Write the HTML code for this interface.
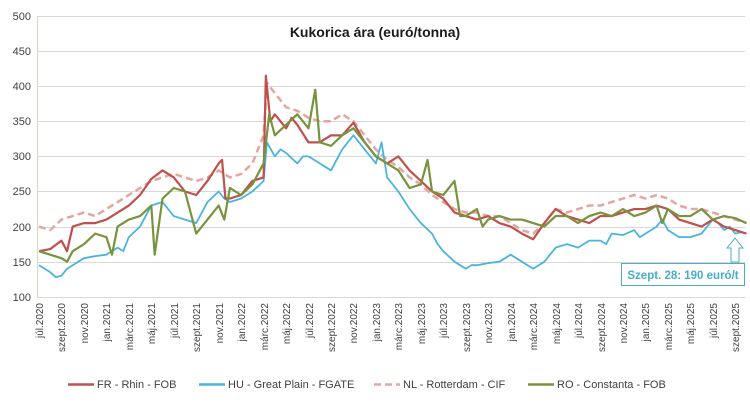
<!DOCTYPE html>
<html><head><meta charset="utf-8"><style>
body{margin:0;background:#fff;}
svg{display:block;font-family:"Liberation Sans",sans-serif;}
</style></head><body>
<svg width="750" height="410" viewBox="0 0 750 410">
<rect width="750" height="410" fill="#fff"/>
<g stroke="#d9d9d9" stroke-width="1">
<line x1="37" x2="745" y1="16.5" y2="16.5"/><line x1="37" x2="745" y1="51.5" y2="51.5"/>
<line x1="37" x2="745" y1="86.5" y2="86.5"/><line x1="37" x2="745" y1="121.5" y2="121.5"/>
<line x1="37" x2="745" y1="156.5" y2="156.5"/><line x1="37" x2="745" y1="191.5" y2="191.5"/>
<line x1="37" x2="745" y1="227.5" y2="227.5"/><line x1="37" x2="745" y1="262.5" y2="262.5"/>
<line x1="37" x2="745" y1="297.5" y2="297.5"/>
</g>
<line x1="37.5" x2="37.5" y1="16" y2="298" stroke="#d9d9c0"/>
<g font-size="11" fill="#404040" text-anchor="end">
<text x="31" y="20">500</text><text x="31" y="55">450</text><text x="31" y="90">400</text>
<text x="31" y="125">350</text><text x="31" y="160">300</text><text x="31" y="195">250</text>
<text x="31" y="231">200</text><text x="31" y="266">150</text><text x="31" y="301">100</text>
</g>
<text x="375" y="37" font-size="14" font-weight="bold" text-anchor="middle" fill="#1a1a1a">Kukorica ára (euró/tonna)</text>
<g font-size="10" fill="#404040" text-anchor="end">
<text transform="translate(43,303) rotate(-90)">júl.2020</text>
<text transform="translate(65,303) rotate(-90)">szept.2020</text>
<text transform="translate(88,303) rotate(-90)">nov.2020</text>
<text transform="translate(110,303) rotate(-90)">jan.2021</text>
<text transform="translate(133,303) rotate(-90)">márc.2021</text>
<text transform="translate(155,303) rotate(-90)">máj.2021</text>
<text transform="translate(178,303) rotate(-90)">júl.2021</text>
<text transform="translate(200,303) rotate(-90)">szept.2021</text>
<text transform="translate(223,303) rotate(-90)">nov.2021</text>
<text transform="translate(245,303) rotate(-90)">jan.2022</text>
<text transform="translate(268,303) rotate(-90)">márc.2022</text>
<text transform="translate(290,303) rotate(-90)">máj.2022</text>
<text transform="translate(313,303) rotate(-90)">júl.2022</text>
<text transform="translate(335,303) rotate(-90)">szept.2022</text>
<text transform="translate(357,303) rotate(-90)">nov.2022</text>
<text transform="translate(380,303) rotate(-90)">jan.2023</text>
<text transform="translate(402,303) rotate(-90)">márc.2023</text>
<text transform="translate(425,303) rotate(-90)">máj.2023</text>
<text transform="translate(447,303) rotate(-90)">júl.2023</text>
<text transform="translate(470,303) rotate(-90)">szept.2023</text>
<text transform="translate(492,303) rotate(-90)">nov.2023</text>
<text transform="translate(515,303) rotate(-90)">jan.2024</text>
<text transform="translate(537,303) rotate(-90)">márc.2024</text>
<text transform="translate(560,303) rotate(-90)">máj.2024</text>
<text transform="translate(582,303) rotate(-90)">júl.2024</text>
<text transform="translate(605,303) rotate(-90)">szept.2024</text>
<text transform="translate(627,303) rotate(-90)">nov.2024</text>
<text transform="translate(649,303) rotate(-90)">jan.2025</text>
<text transform="translate(672,303) rotate(-90)">márc.2025</text>
<text transform="translate(694,303) rotate(-90)">máj.2025</text>
<text transform="translate(717,303) rotate(-90)">júl.2025</text>
<text transform="translate(739,303) rotate(-90)">szept.2025</text>
</g>
<g transform="translate(39,367) scale(11.23,-0.702)" fill="none" stroke-linejoin="round">
<polyline vector-effect="non-scaling-stroke" stroke="#e6a5a0" stroke-width="2.5" stroke-dasharray="7,4" points="0,200 1,195 2,210 3,215 4,220 5,215 6,225 7,235 8,245 9,255 10,265 11,270 12,275 13,270 14,265 15,270 16,280 17,270 18,275 19,290 20,330 20.3,405 21,390 22,370 23,365 24,355 25,350 26,350 27,360 28,350 29,330 30,310 31,295 32,285 33,270 34,260 35,245 36,235 37,225 38,220 39,220 40,215 41,215 42,205 43,195 44,190 45,205 46,225 47,220 48,225 49,230 50,230 51,235 52,240 53,245 54,240 55,245 56,240 57,230 58,225 59,225 60,220 61,215 62,210 63,205"/>
<polyline vector-effect="non-scaling-stroke" stroke="#4bb4de" stroke-width="1.8" points="0,145 0.5,140 1,135 1.5,128 2,130 2.5,140 3,145 4,155 5,158 6,160 7,170 7.5,165 8,185 9,200 10,230 11,235 11.5,225 12,215 13,210 14,205 15,235 16,250 16.5,240 17,235 18,240 19,250 20,265 20.3,320 21,300 21.5,310 22,305 23,290 23.5,300 24,300 25,290 25.5,285 26,280 26.5,295 27,310 27.5,320 28,330 29,310 29.5,300 30,290 30.5,320 31,270 32,250 33,225 34,205 35,190 35.5,175 36,165 37,150 38,140 38.5,145 39,145 40,148 41,150 42,160 43,150 44,140 45,150 46,170 47,175 48,170 49,180 50,180 50.5,175 51,190 52,188 53,195 53.5,185 54,190 55,200 55.5,210 56,195 57,185 58,185 59,190 60,210 60.5,205 61,195 61.5,200 62,190 62.5,192 63,190"/>
<polyline vector-effect="non-scaling-stroke" stroke="#c0504d" stroke-width="2.2" points="0,165 1,168 2,180 2.5,165 3,200 4,205 5,205 6,210 7,220 8,230 9,245 10,268 11,280 12,270 13,250 14,245 15,265 16,290 16.3,295 16.6,240 17,240 18,245 19,265 20,270 20.2,415 20.6,350 21,360 22,340 22.5,355 23,345 24,320 25,320 26,330 27,330 28,348 29,320 30,300 31,290 32,300 33,280 34,265 35,250 36,240 37,220 38,215 39,210 40,215 41,205 42,200 43,190 44,182 45,205 46,225 47,215 48,210 49,205 50,215 51,215 52,220 53,225 54,225 55,230 56,225 57,210 58,205 59,200 60,210 61,200 62,195 63,190"/>
<polyline vector-effect="non-scaling-stroke" stroke="#77933c" stroke-width="2.2" points="0,165 1,160 2,155 2.5,150 3,165 4,175 5,190 6,185 6.5,160 7,200 8,210 9,215 10,230 10.3,160 11,240 12,255 13,250 14,190 15,210 16,230 16.5,210 17,255 18,245 19,260 20,290 20.5,360 21,330 22,345 23,360 24,340 24.6,395 25,320 26,315 27,330 28,340 29,320 30,300 31,290 32,280 33,255 34,260 34.6,295 35,250 36,245 37,265 37.5,215 38,215 39,225 39.5,200 40,210 41,215 42,210 43,210 44,205 45,200 46,215 47,215 48,205 49,215 50,220 51,215 52,225 53,215 54,220 55,230 55.5,205 56,225 57,215 58,215 59,225 60,210 61,215 62,212 63,205"/>
</g>
<path d="M731,262 V248 H727 L735,238 L743,248 H739 V262 Z" fill="#fff" stroke="#4bacc6" stroke-width="1"/>
<rect x="621.5" y="263.5" width="123" height="22" fill="#fff" stroke="#4bacc6"/>
<text x="683" y="279" font-size="11.5" font-weight="bold" fill="#4bacc6" text-anchor="middle">Szept. 28: 190 euró/t</text>
<g font-size="11" fill="#404040">
<line x1="68" x2="94" y1="384.5" y2="384.5" stroke="#c0504d" stroke-width="2.5"/>
<text x="97" y="388">FR - Rhin - FOB</text>
<line x1="199" x2="225" y1="384.5" y2="384.5" stroke="#4bb4de" stroke-width="2.5"/>
<text x="228" y="388">HU - Great Plain - FGATE</text>
<line x1="374" x2="400" y1="384.5" y2="384.5" stroke="#e6a5a0" stroke-width="2.5" stroke-dasharray="7,4"/>
<text x="403" y="388">NL - Rotterdam - CIF</text>
<line x1="528" x2="554" y1="384.5" y2="384.5" stroke="#77933c" stroke-width="2.5"/>
<text x="557" y="388">RO - Constanta - FOB</text>
</g>
</svg>
</body></html>
